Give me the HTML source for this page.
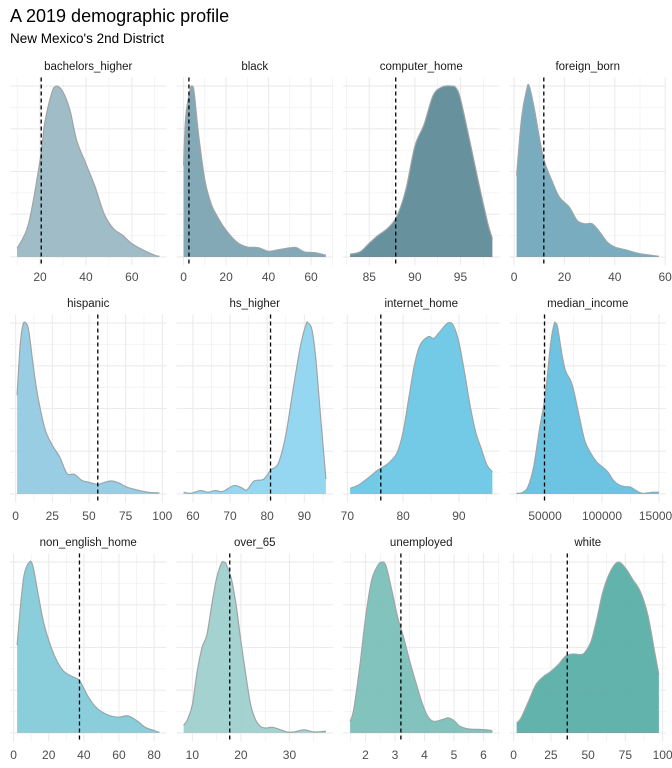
<!DOCTYPE html>
<html><head><meta charset="utf-8">
<style>
body{margin:0;background:#fff;}
svg{display:block;font-family:"Liberation Sans",sans-serif;}
</style></head>
<body>
<svg id="chart" width="672" height="768" viewBox="0 0 672 768" xmlns="http://www.w3.org/2000/svg">
<text x="10" y="22" font-size="18" fill="#000">A 2019 demographic profile</text>
<text x="10" y="43" font-size="13.5" fill="#000">New Mexico's 2nd District</text>
<g id="panels"></g>
</svg>
<script>
const panelNames = ["bachelors_higher","black","computer_home","foreign_born","hispanic","hs_higher","internet_home","median_income","non_english_home","over_65","unemployed","white"];
const panelColors = ["#9ab8c4","#7ba4b1","#5e8b98","#72a8ba","#94cae3","#8fd5f0","#6bc7e6","#64c0e0","#84cbd9","#9ed0cf","#7cc0bb","#5aafa6"];
const vlineValues = [20.5,2.5,87.9,11.8,56,80.9,76,49500,37.5,17.7,3.2,36];
const tickValues = [[20,40,60],[0,20,40,60],[85,90,95],[0,20,40,60],[0,25,50,75,100],[60,70,80,90],[70,80,90],[50000,100000,150000],[0,20,40,60,80],[10,20,30],[2,3,4,5,6],[0,25,50,75,100]];
const densX = [
[10,15,20,22,25,27,30,33,36,40,44,48,52,56,60,65,70,72],
[0,1,3,4,5,7,10,13,16,20,25,30,35,40,45,50,53,57,62,67],
[82.9,84,85,86,87,88,89,90,91,92,93,94,94.5,95,96,97,98,98.5],
[1,3,5,6,8,10,12,15,18,22,25,28,31,34,37,40,45,50,57.5],
[1,3,5,7,9,12,15,20,25,30,35,40,45,50,56,60,65,70,75,80,90,98],
[57.5,59.5,62,64,66,68,71,73,74.5,76.5,79,81,83,85,87,89,90.5,91,92,93,94.5,95.8],
[70.5,72,74,75.5,77,78,79,80,81,82,83,84.5,85.5,86.5,88,89,90,91,92,93,94,95,96],
[25000,30000,35000,40000,45000,50000,55000,58000,59000,61000,65000,68000,72000,75000,80000,85000,90000,95000,100000,105000,110000,115000,120000,125000,130000,135000,145000,150000],
[2,4,6,9,11,14,17,20,24,28,32,36,38,42,46,50,55,60,65,70,75,80,83],
[8.2,9,10,11,12,13,14,15,16,16.5,17,18,19,20,21,22,23,24,25,26.5,28,29.5,31,33,35,37.5],
[1.48,1.6,1.8,2.0,2.2,2.4,2.55,2.7,2.9,3.1,3.3,3.5,3.7,3.9,4.1,4.3,4.6,4.8,5.0,5.2,5.5,5.8,6.1,6.3],
[2,5,10,15,20,25,30,35,40,45,48,52,56,60,65,70,75,80,85,90,95,97.5]
];
const densY = [
[0.05,0.195,0.565,0.78,0.955,1,0.965,0.86,0.68,0.545,0.41,0.25,0.165,0.127,0.078,0.04,0.01,0.004],
[0.536,0.82,0.975,1,0.96,0.72,0.45,0.31,0.234,0.156,0.088,0.058,0.055,0.033,0.043,0.053,0.055,0.029,0.025,0.01],
[0.016,0.03,0.08,0.127,0.166,0.234,0.39,0.645,0.77,0.94,0.99,0.995,0.985,0.92,0.68,0.43,0.195,0.107],
[0.476,0.816,0.98,1,0.87,0.7,0.56,0.447,0.35,0.29,0.214,0.194,0.194,0.146,0.087,0.058,0.039,0.019,0.004],
[0.577,0.86,0.99,1,0.95,0.75,0.577,0.38,0.285,0.217,0.12,0.115,0.08,0.068,0.056,0.066,0.076,0.066,0.043,0.029,0.01,0.006],
[0.01,0.004,0.02,0.01,0.02,0.014,0.049,0.037,0.023,0.076,0.085,0.14,0.18,0.344,0.616,0.87,0.994,1,0.965,0.81,0.42,0.087],
[0.033,0.052,0.1,0.14,0.17,0.2,0.247,0.363,0.557,0.75,0.868,0.92,0.91,0.946,1,0.985,0.887,0.713,0.518,0.363,0.266,0.17,0.13],
[0.004,0.008,0.043,0.16,0.376,0.57,0.886,0.994,1,0.975,0.81,0.72,0.67,0.61,0.455,0.31,0.24,0.19,0.16,0.13,0.08,0.053,0.043,0.04,0.02,0.004,0.01,0.01],
[0.514,0.75,0.925,1,0.975,0.81,0.65,0.543,0.435,0.367,0.337,0.318,0.3,0.22,0.16,0.125,0.1,0.092,0.1,0.073,0.033,0.014,0.004],
[0.045,0.078,0.166,0.36,0.5,0.575,0.75,0.906,0.994,1,0.985,0.906,0.75,0.536,0.34,0.166,0.078,0.039,0.029,0.033,0.02,0.006,0.006,0.018,0.006,0.01],
[0.068,0.136,0.38,0.67,0.887,0.975,1,0.975,0.828,0.67,0.555,0.42,0.3,0.185,0.1,0.068,0.078,0.088,0.072,0.039,0.023,0.021,0.018,0.014],
[0.058,0.088,0.185,0.283,0.33,0.36,0.4,0.45,0.462,0.458,0.474,0.536,0.672,0.828,0.945,1,0.965,0.897,0.828,0.693,0.458,0.341]
];

const NS = "http://www.w3.org/2000/svg";
const root = document.getElementById("panels");
const colX0 = [10,176.5,343,509.5], plotW = 156.5;
const rowY0 = [77.5,314.5,553.5], plotH = 188;
const stripY = [70,307,546], tickY = [281,520,759];

function mk(tag, attrs, parent){
  const e = document.createElementNS(NS, tag);
  for (const k in attrs) e.setAttribute(k, attrs[k]);
  parent.appendChild(e);
  return e;
}
function smoothPath(pts){
  let d = "M" + pts[0][0].toFixed(2) + "," + pts[0][1].toFixed(2);
  for (let i = 0; i < pts.length - 1; i++){
    const p0 = pts[Math.max(0,i-1)], p1 = pts[i], p2 = pts[i+1], p3 = pts[Math.min(pts.length-1,i+2)];
    const c1x = p1[0] + (p2[0]-p0[0])/6, c1y = p1[1] + (p2[1]-p0[1])/6;
    const c2x = p2[0] - (p3[0]-p1[0])/6, c2y = p2[1] - (p3[1]-p1[1])/6;
    d += " C" + c1x.toFixed(2)+","+c1y.toFixed(2)+" "+c2x.toFixed(2)+","+c2y.toFixed(2)+" "+p2[0].toFixed(2)+","+p2[1].toFixed(2);
  }
  return d;
}

panelNames.forEach((name, i) => {
  const col = i % 4, row = Math.floor(i / 4);
  const x0 = colX0[col], y0 = rowY0[row];
  const xs = densX[i], ys = densY[i];
  const dmin = Math.min(...xs), dmax = Math.max(...xs), span = dmax - dmin;
  const lo = dmin - 0.05*span, hi = dmax + 0.05*span;
  const sx = v => x0 + (v - lo) / (hi - lo) * plotW;
  const ymax = Math.max(...ys);
  const sy = v => y0 + plotH - (plotH*0.05/1.1) - v / ymax * (plotH/1.1);

  const g = mk("g", {}, root);
  
  

  for (let k = 0; k <= 8; k++){
    const y = sy(k * ymax / 8);
    const gl = mk("line", {x1:x0, x2:x0+plotW, y1:y, y2:y, stroke:"#ebebeb", "stroke-width": k%2===0 ? 1.1 : 0.55}, g);
    
    
  }
  const tv = tickValues[i];
  const step = tv[1] - tv[0];
  for (let t = tv[0] - step/2; t <= hi; t += step/2){
    if (t < lo) continue;
    const major = tv.some(v => Math.abs(v - t) < step*1e-6);
    const gl = mk("line", {x1:sx(t), x2:sx(t), y1:y0, y2:y0+plotH, stroke:"#ebebeb", "stroke-width": major ? 1.1 : 0.55}, g);
    
    
  }
  const pts = xs.map((x, k) => [sx(x), sy(ys[k])]);
  const base = sy(0);
  const line = smoothPath(pts);
  const area = mk("path", {d: line + " L" + pts[pts.length-1][0] + "," + base + " L" + pts[0][0] + "," + base + " Z", fill: panelColors[i], "fill-opacity": 0.95}, g);
  
  
  const ol = mk("path", {d: line, fill: "none", stroke: "#a3a3a3", "stroke-width": 1.2}, g);
  
  
  const vx = sx(vlineValues[i]);
  const vl = mk("line", {x1:vx, x2:vx, y1:y0, y2:y0+plotH, stroke:"#000", "stroke-width":1.3, "stroke-dasharray":"4,3"}, g);
  
  
  const st = mk("text", {x: x0 + plotW/2, y: stripY[row], "text-anchor":"middle", "font-size":11.5, fill:"#1a1a1a"}, g);
  st.textContent = name;
  
  
  tv.forEach(t => {
    const tl = mk("text", {x: sx(t), y: tickY[row], "text-anchor":"middle", "font-size":12, fill:"#4d4d4d"}, g);
    tl.textContent = String(t);
    
    
  });
});
</script>
</body></html>
